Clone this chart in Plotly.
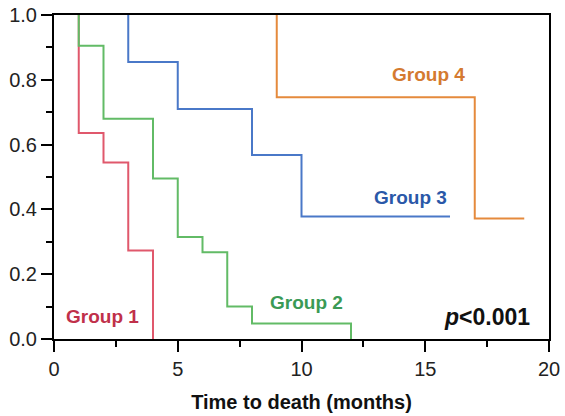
import plotly.graph_objects as go

# Kaplan-Meier step data (time in months, survival proportion)
g1_t = [1, 1, 2, 3, 4]
g1_s = [1.0, 0.636, 0.545, 0.273, 0.0]
g2_t = [1, 1, 2, 4, 5, 6, 7, 8, 12]
g2_s = [1.0, 0.905, 0.68, 0.495, 0.315, 0.268, 0.1, 0.048, 0.0]
g3_t = [3, 3, 5, 8, 10, 16]
g3_s = [1.0, 0.855, 0.71, 0.568, 0.378, 0.378]
g4_t = [9, 9, 17, 19]
g4_s = [1.0, 0.746, 0.372, 0.372]

series = [
    ("Group 1", g1_t, g1_s, "#e0586c", "#c0304a", 1.96, 0.068),
    ("Group 2", g2_t, g2_s, "#62bb66", "#3a9a55", 10.19, 0.114),
    ("Group 3", g3_t, g3_s, "#4a78c8", "#2a58a8", 14.42, 0.438),
    ("Group 4", g4_t, g4_s, "#e58a3c", "#d47a30", 15.15, 0.815),
]

FONT = "Liberation Sans, Arial, sans-serif"
fig = go.Figure()
annotations = []
for name, t, s, lc, tc, ax, ay in series:
    fig.add_trace(go.Scatter(x=t, y=s, mode="lines", line=dict(color=lc, width=2, shape="hv"),
                             name=name, showlegend=False))
    annotations.append(dict(x=ax, y=ay, xref="x", yref="y", text="<b>%s</b>" % name, showarrow=False,
                            font=dict(family=FONT, size=19, color=tc)))

annotations.append(dict(x=19.3, y=0.068, xref="x", yref="y", xanchor="right",
                        text="<b><i>p</i>&lt;0.001</b>", showarrow=False,
                        font=dict(family=FONT, size=23, color="#111111")))

axis_common = dict(showline=True, linecolor="black", linewidth=2, mirror=True,
                   ticks="outside", ticklen=11, tickwidth=2, tickcolor="black",
                   showgrid=False, zeroline=False, automargin=False,
                   tickfont=dict(family=FONT, size=20, color="#222222"))

fig.update_layout(
    width=565, height=416,
    margin=dict(l=54, r=16, t=15, b=77),
    paper_bgcolor="white", plot_bgcolor="white",
    annotations=annotations,
    xaxis=dict(range=[0, 20], tickvals=[0, 5, 10, 15, 20],
               minor=dict(tickvals=[2.5, 7.5, 12.5, 17.5], ticks="outside", ticklen=6,
                          tickwidth=2, tickcolor="black"),
               title=dict(text="<b>Time to death (months)</b>", standoff=16,
                          font=dict(family=FONT, size=20, color="#111111")),
               **axis_common),
    yaxis=dict(range=[0, 1], tickvals=[0, 0.2, 0.4, 0.6, 0.8, 1.0], tickformat=".1f",
               minor=dict(tickvals=[0.1, 0.3, 0.5, 0.7, 0.9], ticks="outside", ticklen=6,
                          tickwidth=2, tickcolor="black"),
               **axis_common),
)

fig.write_html("out.html", config={"displayModeBar": False},
               post_script="document.body.style.margin='0';document.body.style.overflow='hidden';")
